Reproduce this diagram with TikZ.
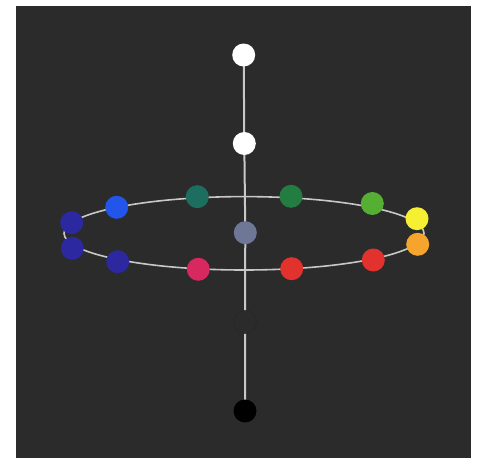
\documentclass[tikz,border=0pt]{standalone}
\usetikzlibrary{backgrounds}
\definecolor{bgdark}{RGB}{43,43,43}
\definecolor{linegray}{RGB}{200,200,200}
\definecolor{cindigo}{RGB}{43,40,160}
\definecolor{cblue}{RGB}{35,85,235}
\definecolor{cteal}{RGB}{30,110,95}
\definecolor{cgreen}{RGB}{35,125,65}
\definecolor{clgreen}{RGB}{85,175,50}
\definecolor{cyellow}{RGB}{245,240,50}
\definecolor{corange}{RGB}{245,165,45}
\definecolor{cred}{RGB}{225,50,45}
\definecolor{cpink}{RGB}{215,40,95}
\definecolor{cslate}{RGB}{110,120,150}
\tikzset{
  ball/.style={circle, minimum size=23pt, inner sep=0pt, fill=#1},
  axisline/.style={draw=linegray, line width=2pt},
  ringline/.style={draw=linegray, line width=1.6pt},
}
\begin{document}
\begin{tikzpicture}[x=1pt,y=-1pt]
\useasboundingbox (0,0) rectangle (480,458);
% axis nodes
\node[ball=white] (w1) at (243.7,55) {};
\node[ball=white] (w2) at (244.3,143.5) {};
\node[ball=cslate] (gc) at (245.3,232.7) {};
\node[ball=bgdark, draw=black!85, line width=0.5pt] (dk) at (245,322) {};
\node[ball=black] (bk) at (245,411) {};
% ring balls
\node[ball=cindigo] (i1) at (71.7,222.7) {};
\node[ball=cindigo] (i2) at (72.3,248.3) {};
\node[ball=cblue] (b1) at (116.7,207.3) {};
\node[ball=cindigo] (i3) at (117.7,261.7) {};
\node[ball=cteal] (t1) at (197.3,196.7) {};
\node[ball=cgreen] (g1) at (291,196.3) {};
\node[ball=clgreen] (g2) at (372.3,203.5) {};
\node[ball=cyellow] (y1) at (417,218.7) {};
\node[ball=corange] (o1) at (417.7,244.3) {};
\node[ball=cred] (r1) at (373.3,260) {};
\node[ball=cred] (r2) at (291.7,268.7) {};
\node[ball=cpink] (p1) at (198.3,269.3) {};
\begin{scope}[on background layer]
  \fill[bgdark] (16,6) rectangle (471,458);
  \draw[axisline] (w1.center) -- (w2.center) -- (gc.center) -- (dk.center) -- (bk.center);
  \draw[ringline] (244,233.3) ellipse [x radius=180, y radius=36.7];
\end{scope}
\end{tikzpicture}
\end{document}
